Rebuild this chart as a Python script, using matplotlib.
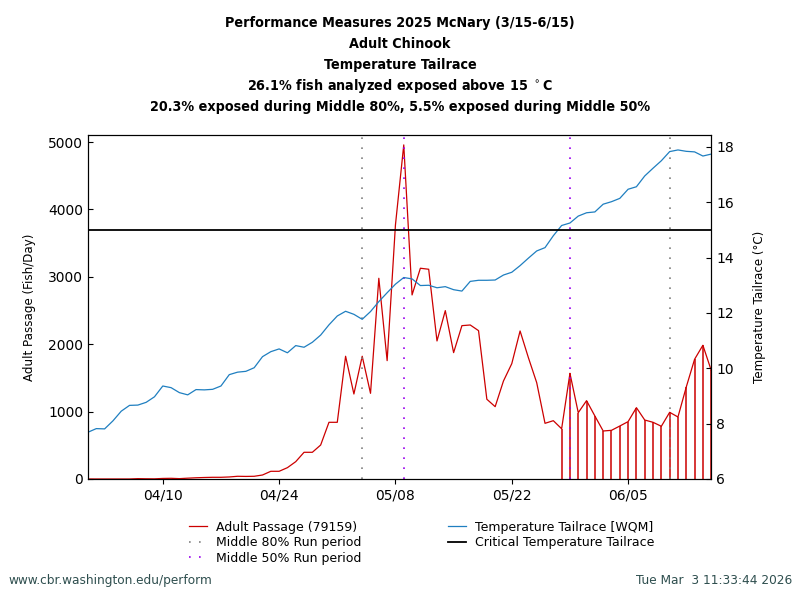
import matplotlib
matplotlib.use('Agg')
import matplotlib.pyplot as plt
import matplotlib.dates as mdates
import numpy as np
import pandas as pd

# daily values 04/01 - 06/15
dates = pd.date_range('2025-04-01', '2025-06-15', freq='D')

passage = [0, 0, 0, 0, 0, 0, 5, 3, 2, 8,
           10, 5, 12, 18, 22, 25, 25, 30, 40, 38,
           40, 59, 114, 114, 168, 257, 396, 396, 504, 841,
           841, 1821, 1261, 1821, 1271, 2978, 1756, 3769, 4957, 2731,
           3127, 3112, 2048, 2498, 1875, 2275, 2285, 2201, 1183, 1073,
           1454, 1711, 2196, 1800, 1429, 826, 865, 745, 1568, 984,
           1162, 935, 712, 722, 786, 851, 1058, 875, 841, 782,
           989, 920, 1365, 1776, 1984, 1613]

temp = [7.69, 7.82, 7.81, 8.10, 8.45, 8.66, 8.67, 8.77, 8.97, 9.36,
        9.30, 9.12, 9.04, 9.23, 9.22, 9.24, 9.36, 9.77, 9.86, 9.89,
        10.02, 10.42, 10.60, 10.70, 10.56, 10.82, 10.76, 10.94, 11.20, 11.57,
        11.89, 12.06, 11.95, 11.77, 12.05, 12.41, 12.73, 13.04, 13.28, 13.23,
        12.99, 13.00, 12.91, 12.95, 12.84, 12.79, 13.14, 13.18, 13.18, 13.19,
        13.37, 13.47, 13.71, 13.98, 14.24, 14.36, 14.79, 15.16, 15.25, 15.50,
        15.62, 15.65, 15.93, 16.02, 16.14, 16.47, 16.56, 16.95, 17.23, 17.50,
        17.83, 17.89, 17.84, 17.82, 17.67, 17.74]

total_fish = 79159
critical_temp = 15
mid80 = ['2025-05-04', '2025-06-10']
mid50 = ['2025-05-09', '2025-05-29']

title_lines = ['Performance Measures 2025 McNary (3/15-6/15)',
               'Adult Chinook',
               'Temperature Tailrace',
               '26.1% fish analyzed exposed above 15 $^\\circ$C',
               '20.3% exposed during Middle 80%, 5.5% exposed during Middle 50%']

red = '#cc0000'
blue = '#1f7fc0'
purple = '#9900ee'
dots = (0, (1, 5))

passage = np.array(passage, dtype=float)
temp = np.array(temp)

fig = plt.figure(figsize=(8, 6), dpi=100)
ax = fig.add_axes([0.11, 0.2017, 0.779, 0.5733])
ax2 = ax.twinx()

ln1, = ax.plot(dates, passage, color=red, lw=0.9, label='Adult Passage (%d)' % total_fish)
hot = temp > critical_temp
ax.vlines(dates[hot], 0, passage[hot], color=red, lw=1.1)

for d in mid80:
    ax.axvline(pd.Timestamp(d), color='gray', ls=dots, lw=1.2)
for d in mid50:
    ax.axvline(pd.Timestamp(d), color=purple, ls=dots, lw=1.2)
h80, = ax.plot([], [], color='gray', ls=dots, lw=1.2, label='Middle 80% Run period')
h50, = ax.plot([], [], color=purple, ls=dots, lw=1.2, label='Middle 50% Run period')

ln2, = ax2.plot(dates, temp, color=blue, lw=0.9, label='Temperature Tailrace [WQM]')
ln3 = ax2.axhline(critical_temp, color='black', lw=1.3, label='Critical Temperature Tailrace')

ax.set_xlim(dates[0], dates[-1])
ax.set_ylim(0, 5104)
ax2.set_ylim(6, 18.43)
ax.set_yticks([0, 1000, 2000, 3000, 4000, 5000])
ax2.set_yticks([6, 8, 10, 12, 14, 16, 18])
ax.set_xticks(pd.to_datetime(['2025-04-10', '2025-04-24', '2025-05-08', '2025-05-22', '2025-06-05']))
ax.xaxis.set_major_formatter(mdates.DateFormatter('%m/%d'))
ax.tick_params(axis='y', direction='in', labelsize=10)
ax2.tick_params(axis='y', direction='in', labelsize=10)
ax.tick_params(axis='x', direction='out', labelsize=10)

ax.set_ylabel('Adult Passage (Fish/Day)', fontsize=8.6, labelpad=9)
ax2.set_ylabel('Temperature Tailrace (\u00b0C)', fontsize=8.6, labelpad=14)

y = 0.961
for t in title_lines:
    fig.text(0.5, y, t, ha='center', va='center', fontsize=10.3, fontweight='bold', fontstretch='condensed')
    y -= 0.035

leg_kw = dict(loc='upper left', frameon=False, fontsize=9, handlelength=1.45,
              handletextpad=0.7, labelspacing=0.2, borderpad=0, borderaxespad=0)
fig.legend(handles=[ln1, h80, h50], bbox_to_anchor=(0.236, 0.132), **leg_kw)
fig.legend(handles=[ln2, ln3], bbox_to_anchor=(0.56, 0.132), **leg_kw)

fig.text(0.01, 0.032, 'www.cbr.washington.edu/perform', fontsize=9.7, color='#2f4f4f', va='center',
         fontstretch='condensed')
fig.text(0.99, 0.032, 'Tue Mar  3 11:33:44 2026', fontsize=9.7, color='#2f4f4f', va='center', ha='right',
         fontstretch='condensed')

fig.savefig('out.png', dpi=100)
